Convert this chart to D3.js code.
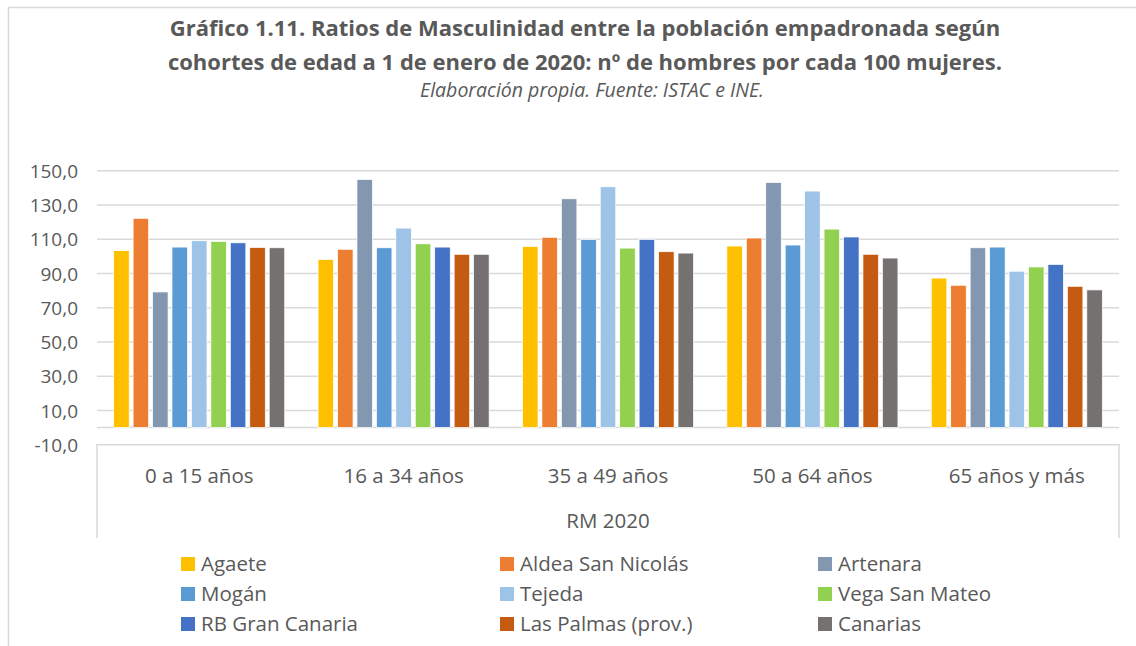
<!DOCTYPE html>
<html>
<head>
<meta charset="utf-8">
<script src="https://cdn.jsdelivr.net/npm/d3@7"></script>
<style>
	body { margin: 0; background: #fff; }
	svg text { font-family: 'Open Sans', sans-serif; fill: #595959; }
</style>
</head>
<body>
<svg id="chart" width="1136" height="646"></svg>
<script>
// cohorts on the x axis
const cohorts = ['0 a 15 años', '16 a 34 años', '35 a 49 años', '50 a 64 años', '65 años y más'];

const places = [
	'Agaete', 'Aldea San Nicolás', 'Artenara',
	'Mogán', 'Tejeda', 'Vega San Mateo',
	'RB Gran Canaria', 'Las Palmas (prov.)', 'Canarias'
];

const placeColors = [
	'#FFC000', '#ED7D31', '#8497B0',
	'#5B9BD5', '#9DC3E6', '#92D050',
	'#4472C4', '#C55A11', '#767171'
];

// one row per place, one value per cohort (men per 100 women)
const agaete = [103.3, 98.2, 105.8, 106.0, 87.3];
const aldea = [122.2, 104.1, 111.1, 110.7, 83.1];
const artenara = [79.2, 144.9, 133.6, 143.1, 105.0];
const mogan = [105.4, 105.0, 109.9, 106.6, 105.4];
const tejeda = [109.1, 116.5, 140.6, 138.1, 91.3];
const vegaSanMateo = [108.7, 107.3, 104.8, 115.9, 93.8];
const rbGranCanaria = [107.9, 105.4, 109.9, 111.3, 95.3];
const lasPalmas = [105.2, 101.2, 102.7, 101.2, 82.5];
const canarias = [105.0, 101.2, 101.9, 99.0, 80.4];

const yTicks = d3.range(-10, 151, 20);

const series = [agaete, aldea, artenara, mogan, tejeda, vegaSanMateo, rbGranCanaria, lasPalmas, canarias];

const svg = d3.select('#chart');

// outer chart frame (runs off the right/bottom edge in the source)
svg.append('rect')
	.attr('x', 8.5).attr('y', 7.5)
	.attr('width', 1200).attr('height', 700)
	.attr('fill', 'none')
	.attr('stroke', '#d9d9d9')
	.attr('stroke-width', 1.5);

// titles
svg.append('text')
	.attr('x', 585).attr('y', 36)
	.attr('text-anchor', 'middle')
	.style('font-size', '22px').style('font-weight', 700)
	.text('Gráfico 1.11. Ratios de Masculinidad entre la población empadronada según');
svg.append('text')
	.attr('x', 585).attr('y', 70)
	.attr('text-anchor', 'middle')
	.style('font-size', '22px').style('font-weight', 700)
	.text('cohortes de edad a 1 de enero de 2020: nº de hombres por cada 100 mujeres.');
svg.append('text')
	.attr('x', 592).attr('y', 97)
	.attr('text-anchor', 'middle')
	.style('font-size', '19.5px').style('font-style', 'italic')
	.text('Elaboración propia. Fuente: ISTAC e INE.');

const left = 97, right = 1119;

const y = d3.scaleLinear().domain([-10, 150]).range([444.7, 170.7]);

const x0 = d3.scaleBand()
	.domain(cohorts)
	.range([left, right])
	.paddingInner(0.163)
	.paddingOuter(0.0815);

const x1 = d3.scaleBand()
	.domain(places)
	.range([0, x0.bandwidth()])
	.paddingInner(0.2);

// grid lines
svg.append('g')
	.selectAll('line')
	.data(yTicks.filter((d) => d !== -10).concat([0]))
	.join('line')
	.attr('x1', left).attr('x2', right)
	.attr('y1', (d) => y(d)).attr('y2', (d) => y(d))
	.attr('stroke', '#d9d9d9')
	.attr('stroke-width', 1.5);

// y axis labels
const yAxis = svg.append('g')
	.attr('transform', 'translate(78,0)')
	.call(d3.axisLeft(y)
		.tickValues(yTicks)
		.tickSize(0)
		.tickPadding(0)
		.tickFormat((d) => d.toFixed(1).replace('.', ',')));
yAxis.select('.domain').remove();
yAxis.selectAll('text')
	.style('font-size', '19px')
	.style('font-family', "'Open Sans', sans-serif")
	.style('fill', '#595959')
	.attr('dy', '0.35em');

// category box below the plot
svg.append('path')
	.attr('d', `M${left},538V${y(-10)}H${right}V538`)
	.attr('fill', 'none')
	.attr('stroke', '#d9d9d9')
	.attr('stroke-width', 1.5);

svg.append('g')
	.selectAll('text')
	.data(cohorts)
	.join('text')
	.attr('x', (d) => x0(d) + x0.bandwidth() / 2)
	.attr('y', 483)
	.attr('text-anchor', 'middle')
	.style('font-size', '20.5px')
	.text((d) => d);

svg.append('text')
	.attr('x', (left + right) / 2).attr('y', 528)
	.attr('text-anchor', 'middle')
	.style('font-size', '20.5px')
	.text('RM 2020');

// bars
const groups = svg.append('g')
	.selectAll('g')
	.data(cohorts)
	.join('g')
	.attr('transform', (d) => `translate(${x0(d)},0)`);

groups.selectAll('rect')
	.data((c, ci) => places.map((p, pi) => ({ place: p, value: series[pi][ci], color: placeColors[pi] })))
	.join('rect')
	.attr('x', (d) => x1(d.place))
	.attr('width', x1.bandwidth())
	.attr('y', (d) => y(d.value))
	.attr('height', (d) => y(0) - y(d.value))
	.attr('fill', (d) => d.color)
	.attr('stroke', '#fff')
	.attr('stroke-width', 0.75);

// legend, 3 columns
const legendCols = [181, 500, 818];
const legend = svg.append('g')
	.selectAll('g')
	.data(places)
	.join('g')
	.attr('transform', (d, i) => `translate(${legendCols[i % 3]},${564 + Math.floor(i / 3) * 30})`);

legend.append('rect')
	.attr('x', 0).attr('y', -7)
	.attr('width', 14).attr('height', 14)
	.attr('fill', (d, i) => placeColors[i]);

legend.append('text')
	.attr('x', 20).attr('y', 0)
	.attr('dy', '0.35em')
	.style('font-size', '20.5px')
	.text((d) => d);
</script>
</body>
</html>
